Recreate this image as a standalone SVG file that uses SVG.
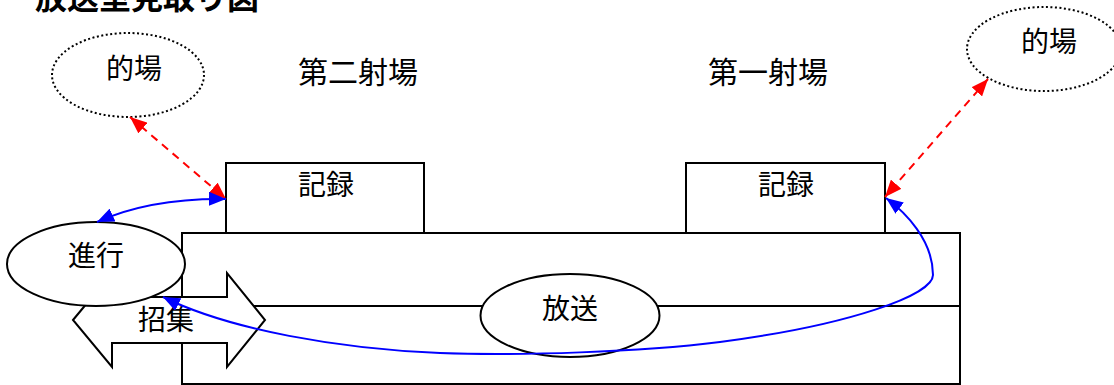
<svg xmlns="http://www.w3.org/2000/svg" width="1114" height="385" viewBox="0 0 1114 385">
<defs>
<style>
text{font-family:"Liberation Serif","Noto Sans CJK JP",serif;font-size:28px;fill:#000;text-anchor:middle}
.box{fill:#fff;stroke:#000;stroke-width:2}
.dot{fill:#fff;stroke:#000;stroke-width:2;stroke-dasharray:2 2.5}
.red{fill:none;stroke:#f00;stroke-width:2;stroke-dasharray:8 6;marker-start:url(#ra);marker-end:url(#ra)}
.blue{fill:none;stroke:#00f;stroke-width:2;marker-start:url(#ba);marker-end:url(#ba)}
</style>
<marker id="ra" markerUnits="userSpaceOnUse" markerWidth="17" markerHeight="14" refX="17" refY="7" orient="auto-start-reverse"><path d="M0,0 L17,7 L0,14 z" fill="#f00"/></marker>
<marker id="ba" markerUnits="userSpaceOnUse" markerWidth="17" markerHeight="14" refX="17" refY="7" orient="auto-start-reverse"><path d="M0,0 L17,7 L0,14 z" fill="#00f"/></marker>
</defs>
<rect width="1114" height="385" fill="#fff"/>
<text id="title" x="147" y="9" style="font-size:32px;font-weight:bold">放送室見取り図</text>
<g id="hall-upper"><rect class="box" x="182" y="233" width="778" height="73"/></g>
<g id="hall-lower"><rect class="box" x="182" y="306" width="778" height="78"/></g>
<g id="record2"><rect class="box" x="226" y="163" width="198" height="70"/><text x="326" y="195">記録</text></g>
<g id="record1"><rect class="box" x="686" y="163" width="199" height="70"/><text x="786" y="195">記録</text></g>
<g id="label2"><text x="358" y="83" style="font-size:30px">第二射場</text></g>
<g id="label1"><text x="768" y="83" style="font-size:30px">第一射場</text></g>
<g id="target2"><ellipse class="dot" cx="128" cy="75" rx="76" ry="42"/><text x="134" y="79">的場</text></g>
<g id="target1"><ellipse class="dot" cx="1044" cy="49" rx="77" ry="42"/><text x="1049" y="52">的場</text></g>
<g id="shoshu"><polygon class="box" points="73,320 112,273 112,297 227,297 227,273 265,320 227,367 227,343 112,343 112,367"/><text x="166" y="330">招集</text></g>
<g id="shinko"><ellipse class="box" cx="96" cy="264" rx="89" ry="42"/><text x="96" y="266">進行</text></g>
<g id="hoso"><ellipse class="box" cx="570" cy="315.5" rx="89.5" ry="41.5"/><text x="570" y="319">放送</text></g>
<g id="connectors">
<path class="red" d="M130,117 L226,199"/>
<path class="red" d="M988,79 L885,197"/>
<path class="blue" d="M226,199 Q150,198 97,222"/>
<path class="blue" d="M886,198 C905,212 933,240 933,275 C933,295 850,325 720,342 C640,352 520,356 440,353 C340,349 230,330 163,297"/>
</g>
</svg>
